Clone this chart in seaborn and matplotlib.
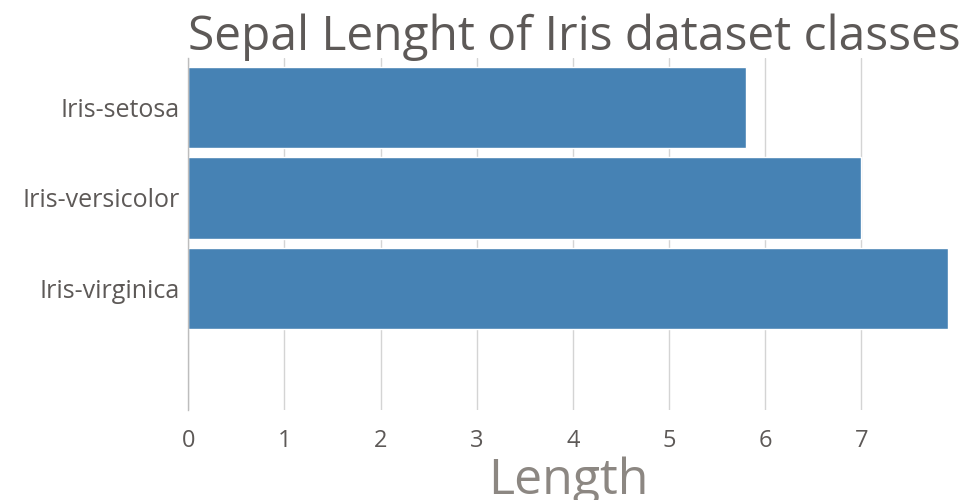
import pandas as pd
import matplotlib
matplotlib.use("Agg")
import matplotlib.pyplot as plt
import seaborn as sns

# Data
classes = ["Iris-setosa", "Iris-versicolor", "Iris-virginica"]
sepal_length = [5.8, 7.0, 7.9]
x_ticks = [0, 1, 2, 3, 4, 5, 6, 7]

df = pd.DataFrame({"Class": classes, "Length": sepal_length})

sns.set_style("white")
plt.rcParams["font.family"] = ["Open Sans", "DejaVu Sans"]

fig = plt.figure(figsize=(9.6, 5), dpi=100)
ax = fig.add_axes([0.196, 0.18, 0.7915, 0.704])

sns.barplot(data=df, x="Length", y="Class", orient="h", color="steelblue",
            saturation=1, width=0.9, ax=ax)

ax.set_xlim(0, 7.9)
ax.set_ylim(3.35, -0.55)
ax.set_xticks(x_ticks)
ax.grid(axis="x", color="#d4d4d4", linewidth=1)
ax.set_axisbelow(True)
for side in ["top", "right", "bottom"]:
    ax.spines[side].set_visible(False)
ax.spines["left"].set_color("#bdbdbd")
ax.spines["left"].set_linewidth(1)
ax.tick_params(axis="both", length=0, colors="#5d5957")
ax.tick_params(axis="x", pad=14, labelsize=17)
ax.tick_params(axis="y", pad=6, labelsize=18)

ax.set_ylabel("")
ax.set_xlabel("Length", fontsize=36, color="#8c8782", labelpad=2)
ax.set_title("Sepal Lenght of Iris dataset classes", loc="left", fontsize=34.5,
             color="#5d5957", pad=6)

fig.savefig("out.png", dpi=100)
